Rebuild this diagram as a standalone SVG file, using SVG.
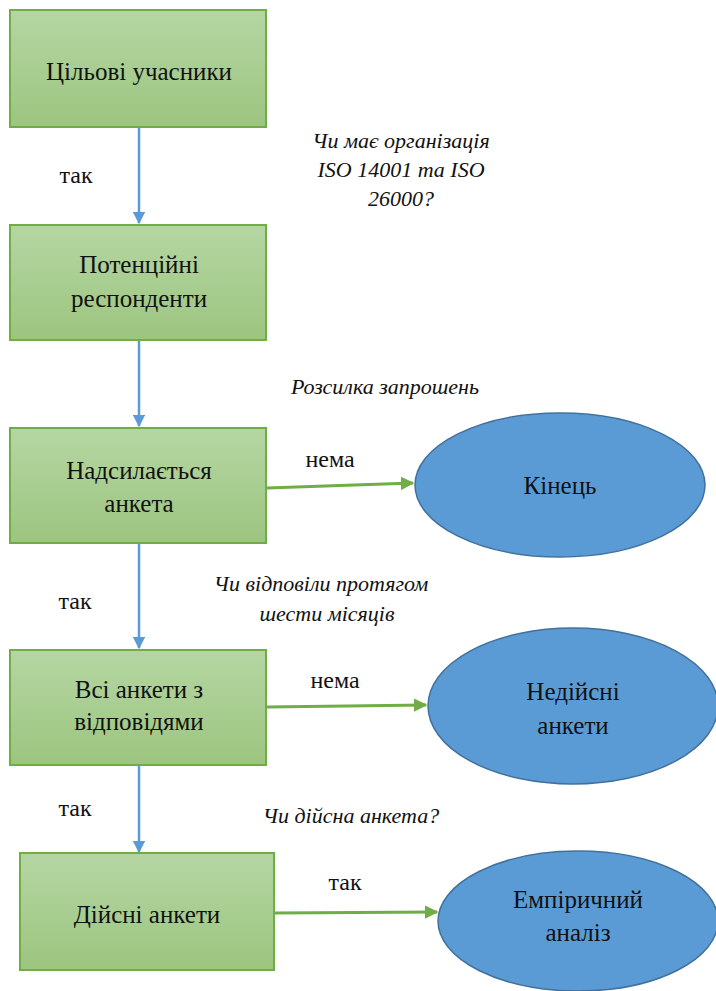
<svg xmlns="http://www.w3.org/2000/svg" width="716" height="991" viewBox="0 0 716 991">
<defs>
<linearGradient id="gg" x1="0" y1="0" x2="0" y2="1">
<stop offset="0" stop-color="#b5d6a3"/>
<stop offset="1" stop-color="#9cc57f"/>
</linearGradient>
<marker id="ab" viewBox="0 0 10 10" refX="9" refY="5" markerWidth="5" markerHeight="5" orient="auto" markerUnits="strokeWidth">
<path d="M0,0 L10,5 L0,10 z" fill="#5b9bd5"/>
</marker>
<marker id="ag" viewBox="0 0 10 10" refX="9" refY="5" markerWidth="4.5" markerHeight="4.5" orient="auto" markerUnits="strokeWidth">
<path d="M0,0 L10,5 L0,10 z" fill="#70ad47"/>
</marker>
</defs>
<style>
.box{fill:url(#gg);stroke:#70ad47;stroke-width:2}
.ell{fill:#5b9bd5;stroke:#41719c;stroke-width:1.5}
.t{font-size:25px}
.l{font-size:24px}
.i{font-style:italic;font-size:22px}
.cb{stroke:#5b9bd5;stroke-width:2.5;fill:none;marker-end:url(#ab)}
.cg{stroke:#70ad47;stroke-width:3;fill:none;marker-end:url(#ag)}
</style>
<rect width="716" height="991" fill="#fff"/>
<g id="connectors">
<line class="cb" x1="139" y1="127" x2="139" y2="223"/>
<line class="cb" x1="139" y1="341" x2="139" y2="426"/>
<line class="cb" x1="139" y1="544" x2="139" y2="648"/>
<line class="cb" x1="139" y1="766" x2="139" y2="852"/>
<line class="cg" x1="267" y1="488" x2="413" y2="483"/>
<line class="cg" x1="267" y1="707" x2="426" y2="705"/>
<line class="cg" x1="275" y1="913" x2="437" y2="912"/>
</g>
<g font-family="Liberation Serif, Times New Roman, DejaVu Serif, serif" fill="#111" text-anchor="middle">
<g id="labels">
<text class="l" x="76" y="183">так</text>
<text class="i" x="401" y="148">Чи має організація</text>
<text class="i" x="401" y="177">ISO 14001 та ISO</text>
<text class="i" x="401" y="206">26000?</text>
<text class="i" x="385" y="394">Розсилка запрошень</text>
<text class="l" x="330" y="467">нема</text>
<text class="l" x="75" y="609">так</text>
<text class="i" x="321" y="591" font-size="20.5">Чи відповіли протягом</text>
<text class="i" x="327" y="621" font-size="20.5">шести місяців</text>
<text class="l" x="335" y="688">нема</text>
<text class="l" x="75" y="816">так</text>
<text class="i" x="351" y="823">Чи дійсна анкета?</text>
<text class="l" x="345" y="890">так</text>
</g>
<g id="n1"><rect class="box" x="10" y="10" width="256" height="117"/><text class="t" x="139" y="80">Цільові учасники</text></g>
<g id="n2"><rect class="box" x="10" y="225" width="256" height="115"/><text class="t" x="139" y="273">Потенційні</text><text class="t" x="139" y="307">респонденти</text></g>
<g id="n3"><rect class="box" x="10" y="428" width="256" height="115"/><text class="t" x="139" y="479">Надсилається</text><text class="t" x="139" y="512">анкета</text></g>
<g id="n4"><ellipse class="ell" cx="560" cy="485" rx="145" ry="72"/><text class="t" x="560" y="494">Кінець</text></g>
<g id="n5"><rect class="box" x="10" y="650" width="256" height="115"/><text class="t" x="139" y="698">Всі анкети  з</text><text class="t" x="139" y="730">відповідями</text></g>
<g id="n6"><ellipse class="ell" cx="573" cy="706" rx="145" ry="78"/><text class="t" x="573" y="700">Недійсні</text><text class="t" x="573" y="734">анкети</text></g>
<g id="n7"><rect class="box" x="20" y="853" width="254" height="117"/><text class="t" x="147" y="923">Дійсні анкети</text></g>
<g id="n8"><ellipse class="ell" cx="578" cy="921" rx="140" ry="70"/><text class="t" x="578" y="908">Емпіричний</text><text class="t" x="578" y="941">аналіз</text></g>
</g>
</svg>
